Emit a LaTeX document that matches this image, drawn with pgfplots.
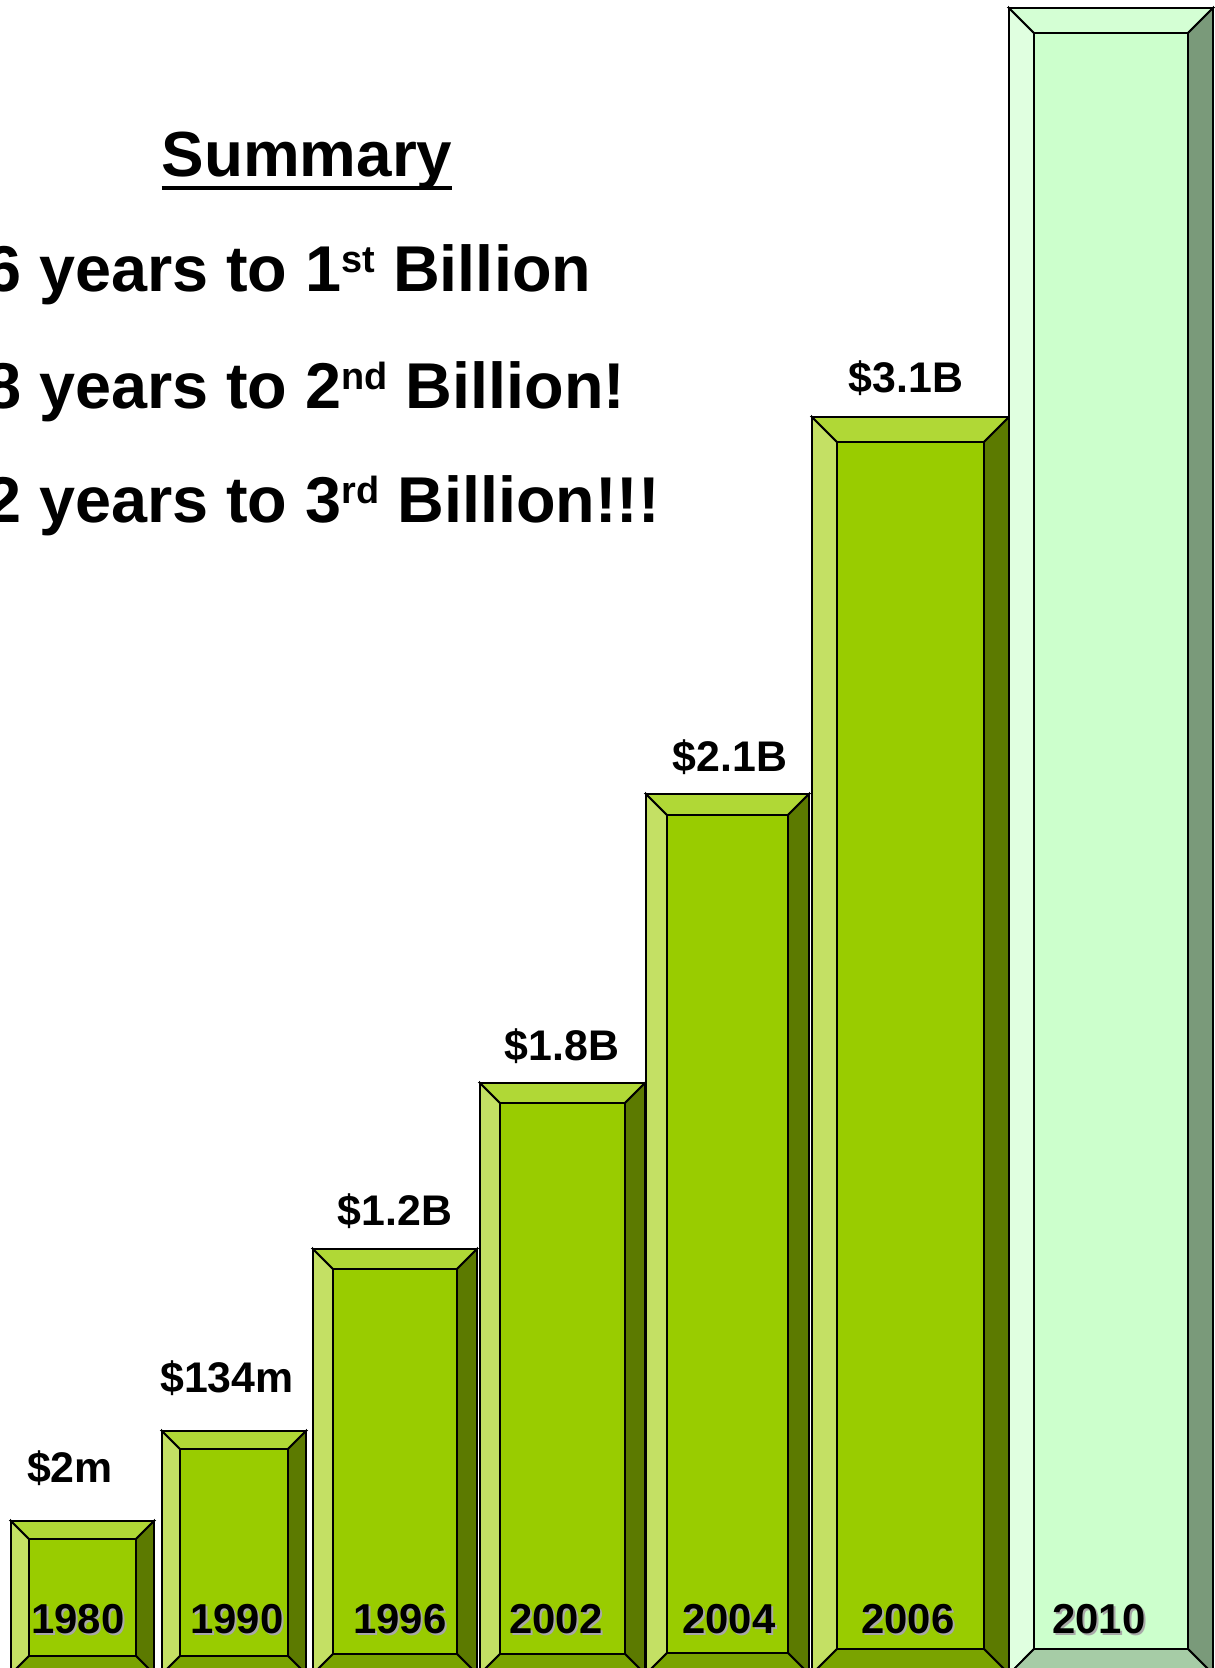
\documentclass[border=0pt]{standalone}
\usepackage{fontspec}
\setmainfont{Liberation Sans}
\usepackage{pgfplots}
\pgfplotsset{compat=1.18}

% lime bars
\definecolor{limeface}{HTML}{99CC00}
\definecolor{limeleft}{HTML}{C4E064}
\definecolor{limetop}{HTML}{B0D836}
\definecolor{limeright}{HTML}{5C7A00}
\definecolor{limebottom}{HTML}{7AA300}
% mint bar (2010)
\definecolor{mintface}{HTML}{CCFFCC}
\definecolor{mintleft}{HTML}{E0FFE0}
\definecolor{minttop}{HTML}{D4FFD4}
\definecolor{mintright}{HTML}{7A9A7A}
\definecolor{mintbottom}{HTML}{A6CCA6}
\definecolor{shadowgray}{HTML}{A8A8A8}

% bevelled bar: left, right, top, bevel width, colour set
\newcommand{\bevbar}[5]{%
  \pgfmathsetmacro\xa{#1}\pgfmathsetmacro\xb{#1+#4}%
  \pgfmathsetmacro\xc{#2-#4}\pgfmathsetmacro\xd{#2}%
  \pgfmathsetmacro\ya{#3}\pgfmathsetmacro\yb{#3+#4}%
  \pgfmathsetmacro\yc{1674-#4}\pgfmathsetmacro\yd{1674}%
  \addplot[fill=#5face,draw=black,line width=1.8bp]
    coordinates {(\xb,\yb)(\xc,\yb)(\xc,\yc)(\xb,\yc)} --cycle;
  \addplot[fill=#5left,draw=black,line width=1.8bp]
    coordinates {(\xa,\ya)(\xb,\yb)(\xb,\yc)(\xa,\yd)} --cycle;
  \addplot[fill=#5top,draw=black,line width=1.8bp]
    coordinates {(\xa,\ya)(\xd,\ya)(\xc,\yb)(\xb,\yb)} --cycle;
  \addplot[fill=#5right,draw=black,line width=1.8bp]
    coordinates {(\xd,\ya)(\xd,\yd)(\xc,\yc)(\xc,\yb)} --cycle;
  \addplot[fill=#5bottom,draw=black,line width=1.8bp]
    coordinates {(\xa,\yd)(\xb,\yc)(\xc,\yc)(\xd,\yd)} --cycle;
}
\newcommand{\yr}[2]{%
  \node[anchor=base,inner sep=0,xshift=2bp,yshift=-2bp,text=shadowgray,
        font=\fontsize{42}{46}\selectfont\bfseries] at (axis cs:#1,1633) {#2};
  \node[anchor=base,inner sep=0,
        font=\fontsize{42}{46}\selectfont\bfseries] at (axis cs:#1,1633) {#2};
}
\newcommand{\val}[3]{%
  \node[anchor=base,inner sep=0,
        font=\fontsize{43}{46}\selectfont\bfseries] at (axis cs:#1,#2) {#3};
}
\newcommand{\sups}[1]{\raisebox{19bp}{\fontsize{38}{40}\selectfont #1}}
\newcommand{\ul}[1]{\setbox0\hbox{#1}\rlap{\rule[-13bp]{\wd0}{4bp}}\box0}

\begin{document}
\begin{tikzpicture}
\begin{axis}[
    at={(0,0)}, anchor=south west,
    width=1215bp, height=1668bp, scale only axis,
    xmin=0, xmax=1215, ymin=0, ymax=1668,
    y dir=reverse,
    hide axis,
    clip=true,
]
% bar: left, right, top (pixels from top), bevel
\bevbar{11}{154}{1521}{18}{lime}   % 1980  $2m
\bevbar{162}{306}{1431}{18}{lime}  % 1990  $134m
\bevbar{313}{477}{1249}{20}{lime}  % 1996  $1.2B
\bevbar{480}{645}{1083}{20}{lime}  % 2002  $1.8B
\bevbar{646}{809}{794}{21}{lime}   % 2004  $2.1B
\bevbar{812}{1009}{417}{25}{lime}  % 2006  $3.1B
\bevbar{1009}{1213}{8}{25}{mint}   % 2010

\val{70}{1482}{\$2m}
\val{227}{1392}{\$134m}
\val{395}{1225}{\$1.2B}
\val{562}{1060}{\$1.8B}
\val{730}{771}{\$2.1B}
\val{906}{392}{\$3.1B}

\yr{78}{1980}
\yr{237}{1990}
\yr{400}{1996}
\yr{556}{2002}
\yr{729}{2004}
\yr{908}{2006}
\yr{1099}{2010}

\node[anchor=base,inner sep=0,font=\fontsize{64}{70}\selectfont\bfseries]
  at (axis cs:307,177) {\ul{Summary}};
\node[anchor=base west,inner sep=0,font=\fontsize{65}{70}\selectfont\bfseries]
  at (axis cs:-15,292) {6 years to 1\sups{st} Billion};
\node[anchor=base west,inner sep=0,font=\fontsize{65}{70}\selectfont\bfseries]
  at (axis cs:-15,408) {8 years to 2\sups{nd} Billion!};
\node[anchor=base west,inner sep=0,font=\fontsize{65}{70}\selectfont\bfseries]
  at (axis cs:-15,522) {2 years to 3\sups{rd} Billion!!!};
\end{axis}
\pgfresetboundingbox
\path[use as bounding box] (0,0) rectangle (1215bp,1668bp);
\end{tikzpicture}
\end{document}
